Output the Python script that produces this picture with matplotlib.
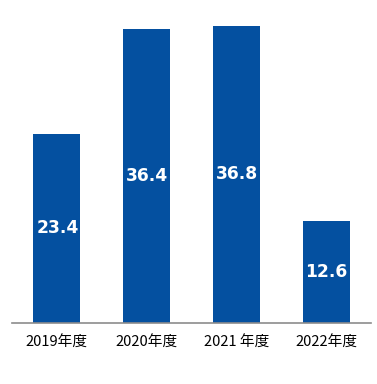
import matplotlib
matplotlib.use("Agg")
import matplotlib.pyplot as plt

categories = ["2019年度", "2020年度", "2021 年度", "2022年度"]
values = [23.4, 36.4, 36.8, 12.6]
value_labels = ["23.4", "36.4", "36.8", "12.6"]

W, H = 377, 384
fig = plt.figure(figsize=(W / 100, H / 100), dpi=100)
ax_left, ax_right = 12, 371
ax_bottom, ax_top = 323, 10
ax = fig.add_axes([ax_left / W, (H - ax_bottom) / H, (ax_right - ax_left) / W, (ax_bottom - ax_top) / H])

x = list(range(len(categories)))
bars = ax.bar(x, values, width=0.525, color="#0450A0")
ax.set_xlim(-0.5, len(categories) - 0.5)
ax.set_ylim(0, (ax_bottom - ax_top) / 8.08)

for xi, v, lab in zip(x, values, value_labels):
    ax.text(xi + 0.005, v / 2, lab, ha="center", va="center", color="white",
            fontsize=12.3, fontweight="bold", family=["DejaVu Sans"])

ax.set_xticks(x)
ax.set_xticklabels(categories, fontsize=10.6, family=["Noto Sans CJK JP", "DejaVu Sans"],
                   color="black")
ax.tick_params(axis="x", length=0, pad=9)
ax.set_yticks([])
for s in ["top", "right", "left"]:
    ax.spines[s].set_visible(False)
ax.spines["bottom"].set_color("#8c8c8c")
ax.spines["bottom"].set_linewidth(1.2)

fig.savefig("out.png", dpi=100)
